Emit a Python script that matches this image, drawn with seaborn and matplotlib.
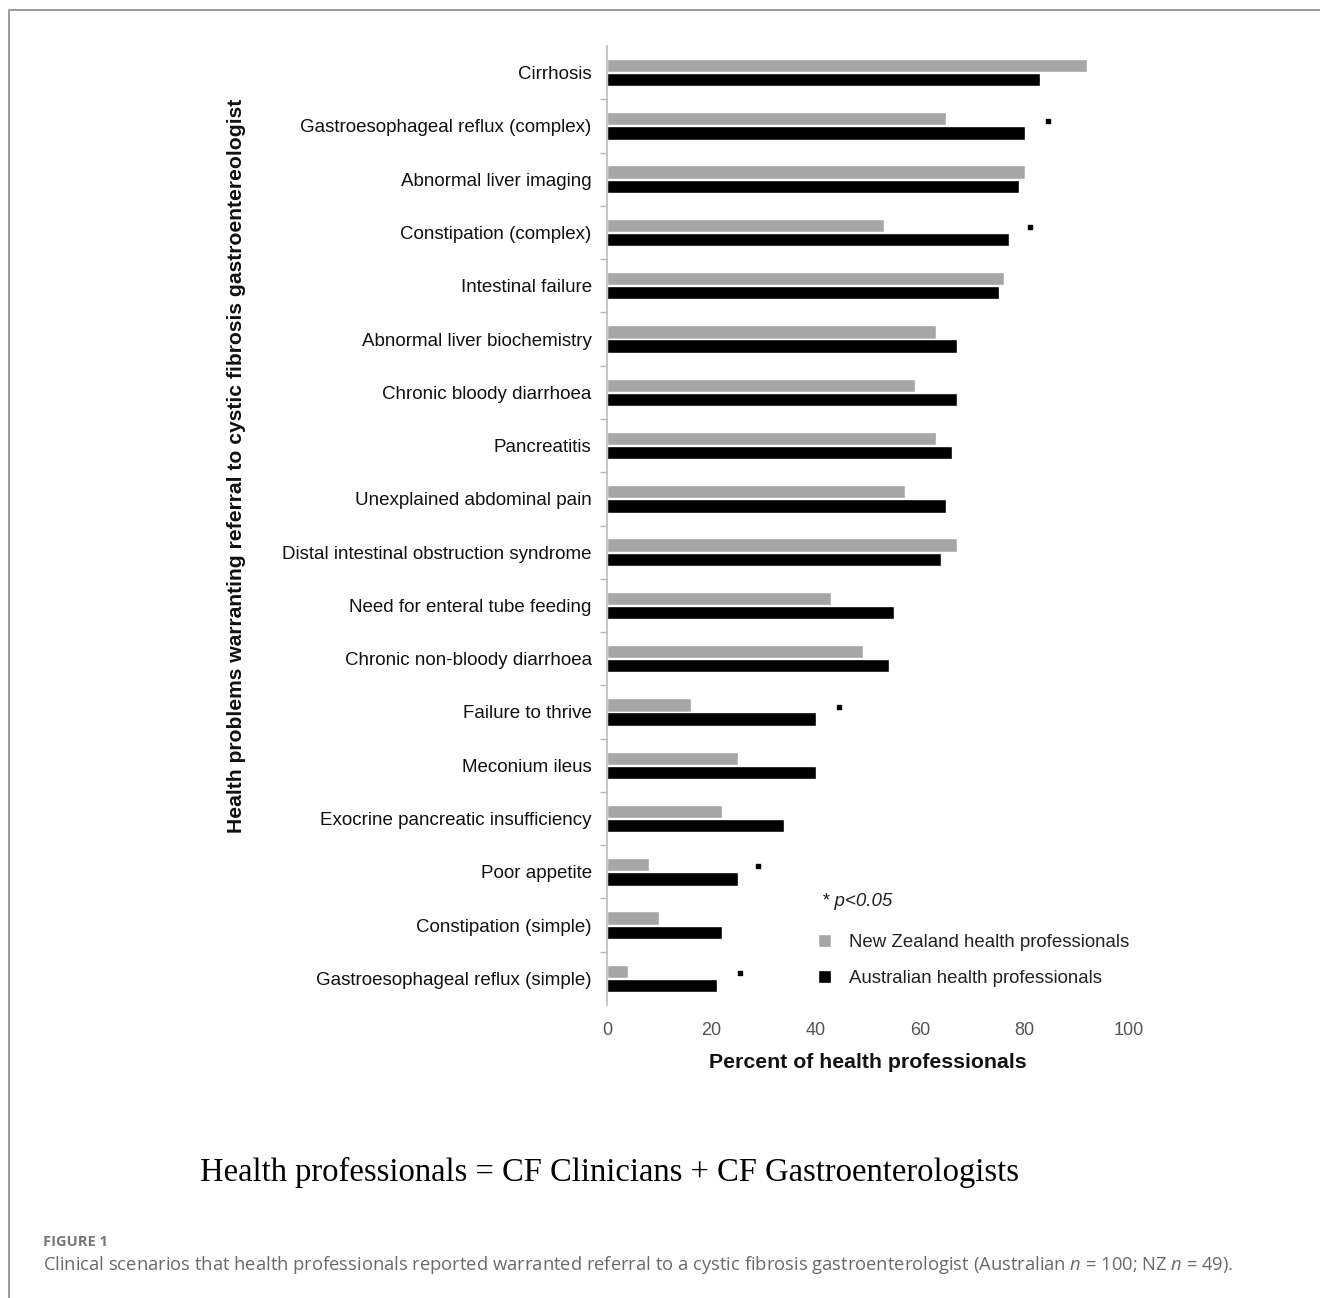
import matplotlib
matplotlib.use("Agg")
import matplotlib.pyplot as plt
import seaborn as sns
import pandas as pd
from matplotlib.patches import Rectangle

categories = [
    "Cirrhosis",
    "Gastroesophageal reflux (complex)",
    "Abnormal liver imaging",
    "Constipation (complex)",
    "Intestinal failure",
    "Abnormal liver biochemistry",
    "Chronic bloody diarrhoea",
    "Pancreatitis",
    "Unexplained abdominal pain",
    "Distal intestinal obstruction syndrome",
    "Need for enteral tube feeding",
    "Chronic non-bloody diarrhoea",
    "Failure to thrive",
    "Meconium ileus",
    "Exocrine pancreatic insufficiency",
    "Poor appetite",
    "Constipation (simple)",
    "Gastroesophageal reflux (simple)",
]
nz_values = [92, 65, 80, 53, 76, 63, 59, 63, 57, 67, 43, 49, 16, 25, 22, 8, 10, 4]
au_values = [83, 80, 79, 77, 75, 67, 67, 66, 65, 64, 55, 54, 40, 40, 34, 25, 22, 21]
series_names = ["New Zealand health professionals", "Australian health professionals"]
star_categories = ["Gastroesophageal reflux (complex)", "Constipation (complex)",
                   "Failure to thrive", "Poor appetite", "Gastroesophageal reflux (simple)"]
star_x = [84.5, 81, 44.5, 29, 25.5]
x_ticks = [0, 20, 40, 60, 80, 100]

df = pd.DataFrame({
    "category": categories * 2,
    "value": nz_values + au_values,
    "group": [series_names[0]] * len(categories) + [series_names[1]] * len(categories),
})

sns.set_theme(style="white")
plt.rcParams["font.family"] = ["Liberation Sans", "DejaVu Sans"]
plt.rcParams["mathtext.fontset"] = "custom"
plt.rcParams["mathtext.rm"] = "Open Sans"
plt.rcParams["mathtext.it"] = "Open Sans:italic"

W, H = 1320, 1298
fig = plt.figure(figsize=(W / 100, H / 100), dpi=100)
ax = fig.add_axes([607 / W, 1 - 1005 / H, 522 / W, 959 / H])

sns.barplot(data=df, y="category", x="value", hue="group", order=categories,
            hue_order=series_names, palette=["#a6a6a6", "#000000"], orient="h",
            width=0.53, gap=0.06, ax=ax, legend=True, saturation=1)

# significance markers
star_y = [categories.index(c) - 0.1 for c in star_categories]
ax.scatter(star_x, star_y, marker="s", s=12, color="black", zorder=5, clip_on=False)

ax.set_xlim(0, 100)
ax.set_ylim(len(categories) - 0.5, -0.5)
ax.set_xticks(x_ticks)
ax.set_xticklabels([str(t) for t in x_ticks])
ax.tick_params(axis="x", length=0, pad=12, labelsize=13, labelcolor="#555555")
ax.tick_params(axis="y", which="major", length=0, pad=11, labelsize=13.5, labelcolor="#111111")
ax.set_yticks([i + 0.5 for i in range(len(categories) - 1)], minor=True)
ax.tick_params(axis="y", which="minor", length=5, color="#bbbbbb", width=1, left=True)
for s in ["top", "right", "bottom"]:
    ax.spines[s].set_visible(False)
ax.spines["left"].set_color("#bbbbbb")
ax.spines["left"].set_linewidth(1.2)
ax.set_ylabel("")
ax.set_xlabel("Percent of health professionals", fontsize=15.3, fontweight="bold",
              color="#111111", labelpad=10)

# legend
handles, labels = ax.get_legend_handles_labels()
ax.get_legend().remove()
fig.legend(handles, labels, loc="upper left", bbox_to_anchor=(818 / W, 1 - 934 / H),
           frameon=False, fontsize=13.4, handlelength=0.7, handleheight=0.7,
           handletextpad=0.95, labelspacing=1.0, borderpad=0, borderaxespad=0,
           labelcolor="#222222")
fig.text(822 / W, 1 - 901 / H, "* p<0.05", fontsize=13.5, style="italic",
         ha="left", va="center", color="#222222")

fig.text(236 / W, 1 - 466 / H,
         "Health problems warranting referral to cystic fibrosis gastroentereologist",
         rotation=90, fontsize=15.2, fontweight="bold", ha="center", va="center",
         color="#111111")

fig.text(609 / W, 1 - 1172 / H,
         "Health professionals = CF Clinicians + CF Gastroenterologists",
         fontsize=23.5, family=["Liberation Serif", "DejaVu Serif"], ha="center",
         va="center", color="black")

fig.text(43 / W, 1 - 1242 / H, "FIGURE 1", fontsize=10.5, fontweight="bold",
         family=["Open Sans", "DejaVu Sans"], color="#777777", ha="left", va="center")
fig.text(43 / W, 1 - 1265 / H,
         r"Clinical scenarios that health professionals reported warranted referral to a cystic "
         r"fibrosis gastroenterologist (Australian $n$ = 100; NZ $n$ = 49).",
         fontsize=13.2, family=["Open Sans", "DejaVu Sans"], color="#6a6a6a",
         ha="left", va="center")

fig.patches.append(Rectangle((9 / W, -0.05), 1.2, 1.05 - 10 / H, transform=fig.transFigure,
                             fill=False, edgecolor="#8a8a8a", linewidth=1.2))

fig.savefig("out.png", dpi=100, facecolor="white")
